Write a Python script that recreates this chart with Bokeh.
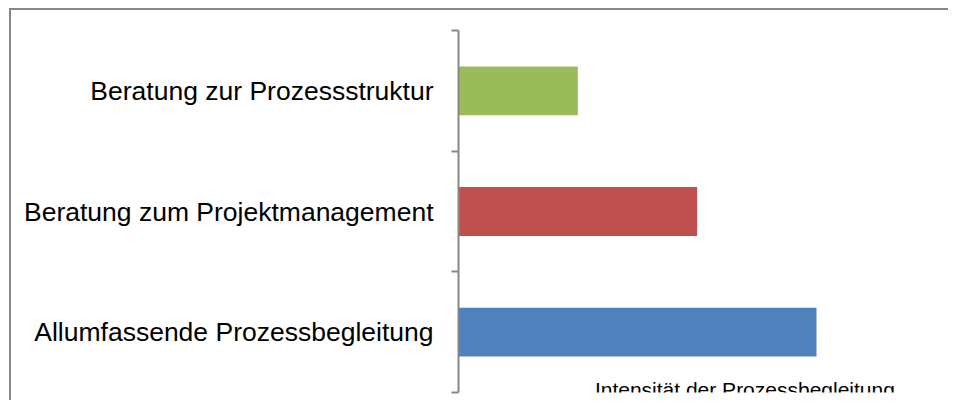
from bokeh.plotting import figure
from bokeh.models import (Range1d, LinearAxis, FixedTicker, Label,
                          ColumnDataSource)
from bokeh.embed import file_html
from bokeh.resources import INLINE

# ---- data ----
categories = ["Allumfassende Prozessbegleitung",
              "Beratung zum Projektmanagement",
              "Beratung zur Prozessstruktur"]
values = [3, 2, 1]
colors = ["#4F81BD", "#C0504D", "#9BBB59"]
axis_title = "Intensität der Prozessbegleitung"

FONT = "Liberation Sans"
AXIS_GRAY = "#878787"

n = len(categories)
centers = [i + 0.5 for i in range(n)]          # category slot centres
boundaries = list(range(n + 1))                # category slot edges

source = ColumnDataSource(dict(y=centers, val=values, color=colors))

p = figure(width=939, height=392,
           y_range=Range1d(0, n),
           x_range=Range1d(0, 4.123),
           output_backend="svg", toolbar_location=None,
           x_axis_location=None, y_axis_location=None,
           min_border_left=447, min_border_top=20,
           min_border_right=0, min_border_bottom=10,
           background_fill_color="white", border_fill_color="white",
           margin=(8, 0, 0, 9),
           styles={"border-top": f"2px solid {AXIS_GRAY}",
                   "border-left": f"2px solid {AXIS_GRAY}"})
p.outline_line_color = None
for g in p.grid:
    g.visible = False

p.hbar(y="y", right="val", left=0, height=0.405, color="color",
       line_color=None, source=source)

# category axis: labels at slot centres, tick marks at slot edges (minor ticks)
cat_axis = LinearAxis(ticker=FixedTicker(ticks=centers, minor_ticks=boundaries),
                      major_label_overrides={c: lab for c, lab in zip(centers, categories)},
                      axis_line_color=AXIS_GRAY, axis_line_width=2,
                      major_tick_line_color=None,
                      major_tick_out=0, major_tick_in=0,
                      minor_tick_line_color=AXIS_GRAY, minor_tick_line_width=2,
                      minor_tick_out=7, minor_tick_in=0,
                      major_label_standoff=18,
                      major_label_text_font=FONT,
                      major_label_text_font_size="26.5px",
                      major_label_text_color="black")
p.add_layout(cat_axis, "left")

p.add_layout(Label(x=2.40, y=0, text=axis_title,
                   text_align="center", text_baseline="alphabetic",
                   y_offset=3, text_font=FONT, text_font_size="21px",
                   text_color="black"))

open("out.html", "w").write(file_html(p, INLINE))
